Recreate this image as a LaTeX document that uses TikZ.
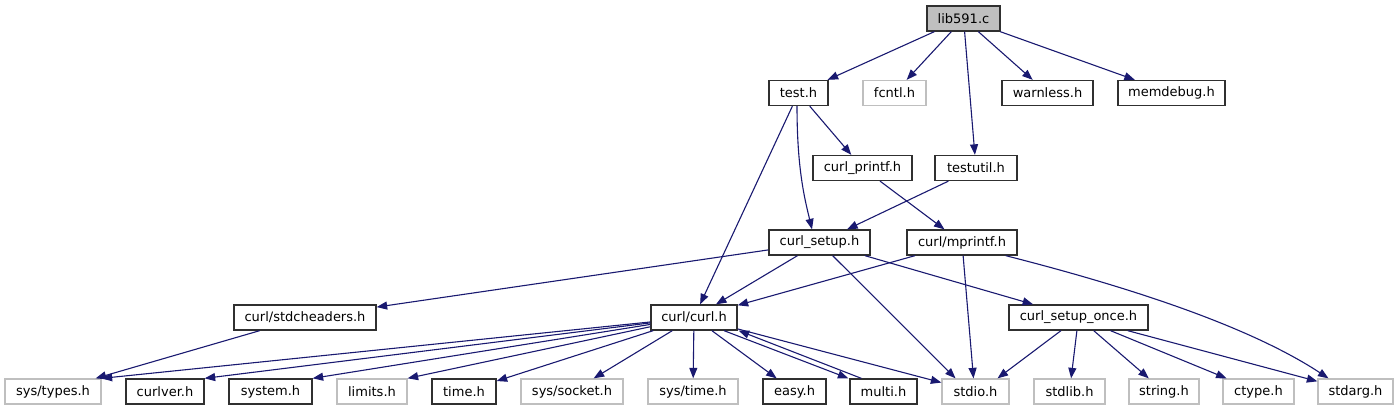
\documentclass[tikz,border=0pt]{standalone}
\usepackage{fontspec}
\setmainfont{DejaVu Sans}
\usetikzlibrary{arrows.meta}
\definecolor{edgeblue}{HTML}{191970}
\definecolor{greyline}{HTML}{BFBFBF}
\definecolor{boxline}{HTML}{303030}
\begin{document}
\begin{tikzpicture}[x=1pt,y=-1pt,
  box/.style={draw=boxline,line width=1.3pt,fill=white,minimum height=25pt,inner sep=0pt,font=\fontsize{13}{15}\selectfont,text=black},
  ext/.style={box,draw=greyline},
  root/.style={box,fill=greyline},
  edge/.style={draw=edgeblue,line width=1.1pt,-{Triangle[length=10.5pt,width=8pt]}}]
\useasboundingbox (0,0) rectangle (1399,411);
% row 1
\node[root,minimum width=73pt] (lib) at (963.5,18.5) {lib591.c};
% row 2
\node[box,minimum width=59pt] (test) at (798.5,93) {test.h};
\node[ext,minimum width=63pt] (fcntl) at (894.5,93) {fcntl.h};
\node[box,minimum width=91pt] (warnless) at (1047.5,93) {warnless.h};
\node[box,minimum width=107pt] (memdebug) at (1171.5,93) {memdebug.h};
% row 3
\node[box,minimum width=99pt] (cprintf) at (862.5,168) {curl\_printf.h};
\node[box,minimum width=82pt] (testutil) at (976,168) {testutil.h};
% row 4
\node[box,minimum width=101pt] (setup) at (819.5,242.5) {curl\_setup.h};
\node[box,minimum width=110pt] (mprintf) at (962,242.5) {curl/mprintf.h};
% row 5
\node[box,minimum width=142pt] (stdch) at (305,317.5) {curl/stdcheaders.h};
\node[box,minimum width=86pt] (curl) at (694,317.5) {curl/curl.h};
\node[box,minimum width=139pt] (once) at (1078.5,317.5) {curl\_setup\_once.h};
% row 6
\node[ext,minimum width=96pt] (systypes) at (53,391.5) {sys/types.h};
\node[box,minimum width=78pt] (curlver) at (165,391.5) {curlver.h};
\node[box,minimum width=83pt] (system) at (270.5,391.5) {system.h};
\node[ext,minimum width=70pt] (limits) at (372,391.5) {limits.h};
\node[box,minimum width=64pt] (time) at (464,391.5) {time.h};
\node[ext,minimum width=102pt] (socket) at (572,391.5) {sys/socket.h};
\node[ext,minimum width=90pt] (systime) at (693,391.5) {sys/time.h};
\node[box,minimum width=63pt] (easy) at (794.5,391.5) {easy.h};
\node[box,minimum width=67pt] (multi) at (883.5,391.5) {multi.h};
\node[ext,minimum width=67pt] (stdio) at (975.5,391.5) {stdio.h};
\node[ext,minimum width=71pt] (stdlib) at (1069.5,391.5) {stdlib.h};
\node[ext,minimum width=70pt] (string) at (1164,391.5) {string.h};
\node[ext,minimum width=71pt] (ctype) at (1258.5,391.5) {ctype.h};
\node[ext,minimum width=75pt] (stdarg) at (1355.5,391.5) {stdarg.h};
% edges
\draw[edge] (lib) -- (test);
\draw[edge] (lib) -- (fcntl);
\draw[edge] (lib) -- (testutil);
\draw[edge] (lib) -- (warnless);
\draw[edge] (lib) -- (memdebug);
\draw[edge] (test) -- (cprintf);
\draw[edge] ([xshift=-1.5pt]test.south) .. controls (797,170) and (805,200) .. ([xshift=-7.5pt]setup.north);
\draw[edge] (test) -- (curl);
\draw[edge] (cprintf) -- (mprintf);
\draw[edge] (testutil) -- (setup);
\draw[edge] (setup) -- (stdch);
\draw[edge] (setup) -- (curl);
\draw[edge] (setup) -- ([xshift=-20pt]stdio.north);
\draw[edge] (setup) -- (once);
\draw[edge] (mprintf) -- (curl);
\draw[edge] (mprintf) -- ([xshift=-2pt]stdio.north);
\draw[edge] ([xshift=-12pt]mprintf.south east) .. controls (1180,300) and (1270,340) .. ([xshift=-27pt]stdarg.north);
\draw[edge] (stdch) -- ([xshift=-6pt]systypes.north east);
\draw[edge] (curl) -- (systypes.north east);
\draw[edge] (curl) -- (curlver.north east);
\draw[edge] (curl) -- (system.north east);
\draw[edge] (curl) -- (limits.north east);
\draw[edge] (curl) -- (time);
\draw[edge] (curl) -- (socket);
\draw[edge] (curl) -- (systime);
\draw[edge] (curl) -- (easy);
\draw[edge] ([xshift=30pt]curl.south) -- ([xshift=-1pt]multi.north west);
\draw[edge] ([xshift=12pt]multi.north west) -- ([xshift=1pt]curl.south east);
\draw[edge] (curl) -- (stdio);
\draw[edge] (once) -- ([xshift=22pt]stdio.north);
\draw[edge] (once) -- (stdlib);
\draw[edge] (once) -- (string);
\draw[edge] (once) -- (ctype);
\draw[edge] (once) -- (stdarg);
\end{tikzpicture}
\end{document}
